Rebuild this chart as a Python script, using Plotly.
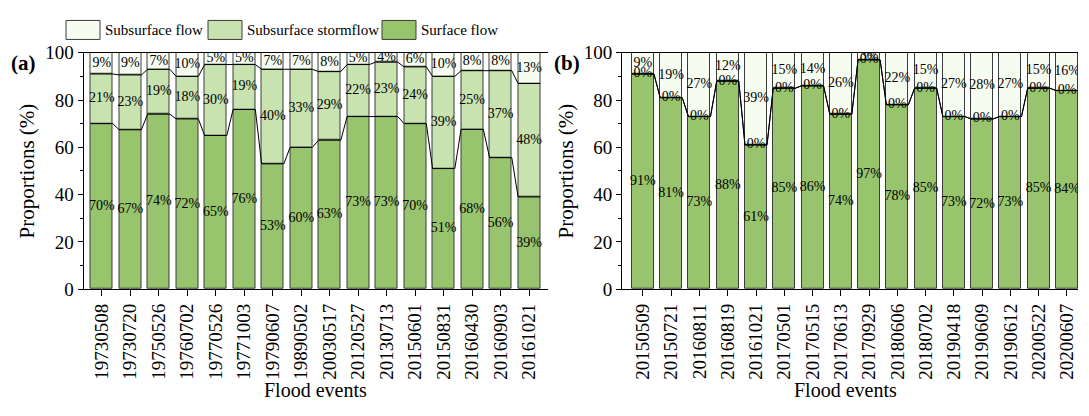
import plotly.graph_objects as go

# ---------------- data ----------------
events_a = ["19730508", "19730720", "19750526", "19760702", "19770526", "19771003",
            "19790607", "19890502", "20030517", "20120527", "20130713", "20150601",
            "20150831", "20160430", "20160903", "20161021"]
surface_a = [70, 67.4, 74, 72, 65, 76, 53, 60, 63, 73, 73, 70, 51, 67.6, 55.6, 39]
storm_a = [21, 23.2, 19, 18, 30, 19, 40, 33, 29, 22, 23, 24, 39, 24.8, 36.8, 48]
sub_a = [9, 9.4, 7, 10, 5, 5, 7, 7, 8, 5, 4, 6, 10, 7.6, 7.6, 13]

events_b = ["20150509", "20150721", "20160811", "20160819", "20161021", "20170501",
            "20170515", "20170613", "20170929", "20180606", "20180702", "20190418",
            "20190609", "20190612", "20200522", "20200607"]
surface_b = [91, 81, 73, 88, 61, 85, 86, 74, 97, 78, 85, 73, 72, 73, 85, 84]
storm_b = [0, 0, 0, 0, 0, 0, 0, 0, 0, 0, 0, 0, 0, 0, 0, 0]
sub_b = [9, 19, 27, 12, 39, 15, 14, 26, 3, 22, 15, 27, 28, 27, 15, 16]

series_names = ["Subsurface flow", "Subsurface stormflow", "Surface flow"]
y_ticks = [0, 20, 40, 60, 80, 100]

# ---------------- style ----------------
C_SURF = "#97c46c"
C_STORM = "#c8e2b0"
C_SUB = "#f7fcf0"
EDGE = "#3c3c3c"
FONT = "Times New Roman, Liberation Serif, serif"
W, H = 1089, 416
BAR_W = 0.78

fig = go.Figure()


def add_panel(events, surf, storm, sub, xa, ya):
    x = list(range(len(events)))
    lvl1 = surf
    lvl2 = [a + b for a, b in zip(surf, storm)]
    for vals, base, col in [(surf, None, C_SURF), (storm, lvl1, C_STORM), (sub, lvl2, C_SUB)]:
        fig.add_trace(go.Bar(
            x=x, y=vals, base=base, width=BAR_W,
            marker=dict(color=col, line=dict(color=EDGE, width=1)),
            xaxis=xa, yaxis=ya, showlegend=False, hoverinfo="skip"))
    # connecting lines along the stack boundaries
    for lvl in (lvl1, lvl2):
        lx, ly = [], []
        for i, v in zip(x, lvl):
            lx += [i - BAR_W / 2, i + BAR_W / 2]
            ly += [v, v]
        fig.add_trace(go.Scatter(x=lx, y=ly, mode="lines",
                                 line=dict(color="black", width=1),
                                 xaxis=xa, yaxis=ya, showlegend=False, hoverinfo="skip"))
    # value labels at segment centres
    tx, ty, tt = [], [], []
    for i in x:
        segs = [(0, surf[i]), (lvl1[i], storm[i]), (lvl2[i], sub[i])]
        for b, v in segs:
            tx.append(i)
            ty.append(b + v / 2)
            tt.append(f"{round(v)}%")
    fig.add_trace(go.Scatter(x=tx, y=ty, text=tt, mode="text",
                             textfont=dict(family=FONT, size=14, color="black"),
                             xaxis=xa, yaxis=ya, showlegend=False, hoverinfo="skip"))


add_panel(events_a, surface_a, storm_a, sub_a, "x", "y")
add_panel(events_b, surface_b, storm_b, sub_b, "x2", "y2")

ydom = [(H - 294) / H, (H - 45) / H]
xdom1 = [83.5 / W, 548 / W]
xdom2 = [622 / W, 1078 / W]

xcommon = dict(showline=True, linecolor="black", linewidth=1, mirror=True,
               ticks="outside", ticklen=6, tickcolor="black", tickangle=-90,
               tickfont=dict(family=FONT, size=19, color="black"),
               showgrid=False, zeroline=False)
ycommon = dict(range=[0, 100], tickvals=y_ticks, showline=True, linecolor="black",
               linewidth=1, ticks="outside", ticklen=5, tickcolor="black",
               minor=dict(dtick=10, ticks="outside", ticklen=3, tickcolor="black"),
               tickfont=dict(family=FONT, size=19, color="black"),
               showgrid=False, zeroline=False)

fig.update_layout(
    width=W, height=H, margin=dict(l=0, r=0, t=0, b=0),
    paper_bgcolor="white", plot_bgcolor="white",
    barmode="overlay", bargap=0,
    xaxis=dict(domain=xdom1, range=[-0.64, 15.66], tickvals=list(range(len(events_a))),
               ticktext=events_a, anchor="y", **xcommon),
    xaxis2=dict(domain=xdom2, range=[-0.74, 15.39], tickvals=list(range(len(events_b))),
                ticktext=events_b, anchor="y2", **xcommon),
    yaxis=dict(domain=ydom, anchor="x", **ycommon),
    yaxis2=dict(domain=ydom, anchor="x2", **ycommon),
)

ann = []
shapes = []
# axis titles
for xc in [(83.5 + 548) / 2, 845]:
    ann.append(dict(text="Flood events", x=xc / W, y=1 - 400 / H, xref="paper", yref="paper",
                    showarrow=False, xanchor="center", yanchor="middle",
                    font=dict(family=FONT, size=20, color="black")))
for xc in [27, 566]:
    ann.append(dict(text="Proportions (%)", x=xc / W, y=1 - 170 / H, xref="paper", yref="paper",
                    showarrow=False, textangle=-90, xanchor="center", yanchor="middle",
                    font=dict(family=FONT, size=21, color="black")))
# panel labels
for lab, xc in [("(a)", 23), ("(b)", 567)]:
    ann.append(dict(text=f"<b>{lab}</b>", x=xc / W, y=1 - 56 / H, xref="paper", yref="paper",
                    showarrow=False, xanchor="center", yanchor="middle",
                    font=dict(family=FONT, size=21, color="black")))
# legend (manual, wide swatches)
leg_cols = [C_SUB, C_STORM, C_SURF]
leg_x = [66, 208, 382]
for name, col, lx in zip(series_names, leg_cols, leg_x):
    shapes.append(dict(type="rect", xref="paper", yref="paper",
                       x0=lx / W, x1=(lx + 34) / W, y0=1 - 31 / H, y1=1 - 11 / H,
                       fillcolor=col, line=dict(color=EDGE, width=1)))
    ann.append(dict(text=name, x=(lx + 37) / W, y=1 - 21 / H, xref="paper", yref="paper",
                    showarrow=False, xanchor="left", yanchor="middle",
                    font=dict(family=FONT, size=15, color="black")))

fig.update_layout(annotations=ann, shapes=shapes)
fig.write_html("out.html", config={"displayModeBar": False},
               post_script="document.body.style.margin='0px';document.body.style.overflow='hidden';")
